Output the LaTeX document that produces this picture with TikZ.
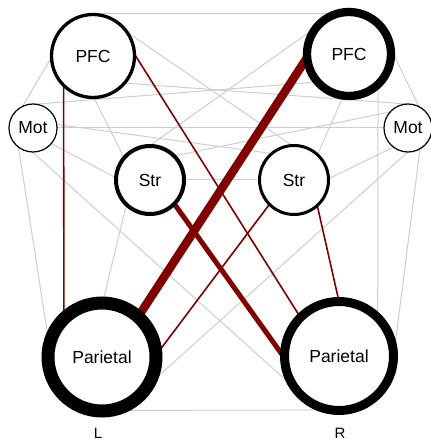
\documentclass[tikz,border=0pt]{standalone}
\usepackage{fontspec}
\setmainfont{Liberation Sans}
\pgfdeclarelayer{bg}
\pgfsetlayers{bg,main}
\definecolor{edgered}{RGB}{128,0,0}
\definecolor{edgegray}{RGB}{206,206,206}
\begin{document}
\begin{tikzpicture}[x=1bp,y=-1bp,
  region/.style={circle, draw=black, fill=white, inner sep=0pt, font=\fontsize{17.5bp}{20bp}\selectfont},
  side/.style={font=\fontsize{15bp}{18bp}\selectfont},
  weak/.style={draw=edgegray, line width=1bp, shorten <=-3bp, shorten >=-3bp},
  sig/.style={draw=edgered, line width=1.6bp, shorten <=-6bp, shorten >=-6bp},
]
\useasboundingbox (0,0) rectangle (430,443);
\node[region, line width=3.3bp, minimum size=83bp] (pfcL) at (93,56) {PFC};
\node[region, line width=8.3bp, minimum size=84bp] (pfcR) at (349,54) {PFC};
\node[region, line width=1.2bp, minimum size=48bp] (motL) at (33,128) {Mot};
\node[region, line width=1.2bp, minimum size=48bp] (motR) at (408,128) {Mot};
\node[region, line width=4bp, minimum size=68bp] (strL) at (150,180) {Str};
\node[region, line width=3bp, minimum size=69bp] (strR) at (294,180) {Str};
\node[region, line width=13bp, minimum size=108bp] (parL) at (102,357) {Parietal};
\node[region, line width=9bp, minimum size=109bp] (parR) at (339,356) {Parietal};
\node[side] (labL) at (98,433) {L};
\node[side] (labR) at (340,433) {R};
\begin{pgfonlayer}{bg}
\draw[weak] (pfcL.80) -- (pfcR.119);
\draw[weak] (pfcL.185) -- (motL.114);
\draw[weak] (motL.234) -- (parL.155);
\draw[weak] (motL.-40) -- (strL.175);
\draw[weak] (motL.270) -- (parR.203);
\draw[weak] (motL.0) -- (motR.180);
\draw[weak] (motL.78) -- (pfcR.218);
\draw[weak] (motL.8) -- (strR.132);
\draw[weak] (pfcL.272) -- (strL.138);
\draw[weak] (pfcL.321) -- (motR.100);
\draw[weak] (pfcL.30) -- (strR.96);
\draw[weak] (pfcR.153) -- (strL.87);
\draw[weak] (pfcR.-4) -- (motR.65);
\draw[weak] (pfcR.261) -- (strR.48);
\draw[weak] (pfcR.309) -- (parR.49);
\draw[weak] (motR.140) -- (strL.43);
\draw[weak] (motR.232) -- (strR.3);
\draw[weak] (motR.268) -- (parL.343);
\draw[weak] (motR.299) -- (parR.16);
\draw[weak] (strL.0) -- (strR.180);
\draw[weak] (strL.228) -- (parL.88);
\draw[weak] (parL.298) -- (parR.246);
\draw[sig] (pfcL.227.5) -- (parL.129.3);
\draw[sig] (pfcL.-1) -- (parR.134);
\draw[sig, line width=8.5bp] (pfcR.191.6) -- (parL.49);
\draw[sig, line width=5bp] (strL.315) -- (parR.176);
\draw[sig] (strR.225) -- (parL.9.5);
\draw[sig] (strR.311.6) -- (parR.91);
\end{pgfonlayer}
\end{tikzpicture}
\end{document}
